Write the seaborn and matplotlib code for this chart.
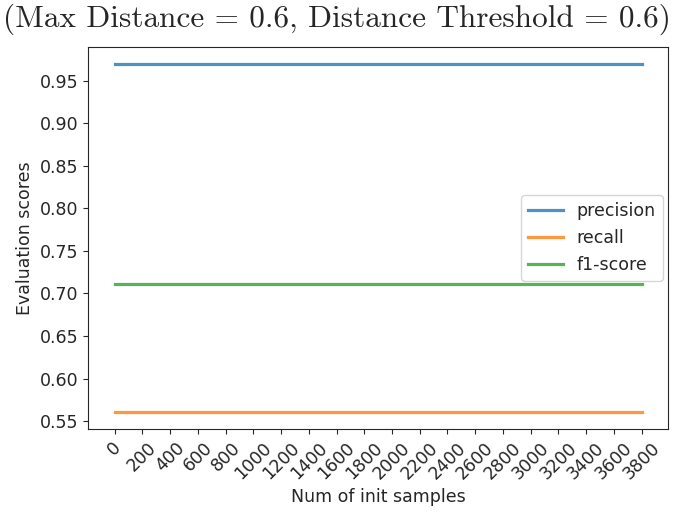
import pandas as pd
import numpy as np
import matplotlib
matplotlib.use("Agg")
import matplotlib.pyplot as plt
import seaborn as sns

# data
init_samples = [0, 200, 400, 600, 800, 1000, 1200, 1400, 1600, 1800,
                2000, 2200, 2400, 2600, 2800, 3000, 3200, 3400, 3600, 3800]
precision = [0.969, 0.969, 0.969, 0.969, 0.969, 0.969, 0.969, 0.969, 0.969, 0.969,
             0.969, 0.969, 0.969, 0.969, 0.969, 0.969, 0.969, 0.969, 0.969, 0.969]
recall = [0.561, 0.561, 0.561, 0.561, 0.561, 0.561, 0.561, 0.561, 0.561, 0.561,
          0.561, 0.561, 0.561, 0.561, 0.561, 0.561, 0.561, 0.561, 0.561, 0.561]
f1_score = [0.711, 0.711, 0.711, 0.711, 0.711, 0.711, 0.711, 0.711, 0.711, 0.711,
            0.711, 0.711, 0.711, 0.711, 0.711, 0.711, 0.711, 0.711, 0.711, 0.711]
metric_names = ["precision", "recall", "f1-score"]
y_ticks = [0.55, 0.60, 0.65, 0.70, 0.75, 0.80, 0.85, 0.90, 0.95]

df = pd.DataFrame({
    "samples": init_samples * 3,
    "score": precision + recall + f1_score,
    "metric": [metric_names[0]] * len(init_samples)
              + [metric_names[1]] * len(init_samples)
              + [metric_names[2]] * len(init_samples),
})

plt.rcParams["font.family"] = ["DejaVu Sans"]
plt.rcParams["font.size"] = 12.5
plt.rcParams["text.color"] = "#262626"
plt.rcParams["axes.labelcolor"] = "#262626"
plt.rcParams["xtick.color"] = "#262626"
plt.rcParams["ytick.color"] = "#262626"
plt.rcParams["axes.edgecolor"] = "#262626"

fig = plt.figure(figsize=(6.74, 5.12), dpi=100)
ax = fig.add_axes([0.131, 0.162, 0.860, 0.746])

sns.lineplot(data=df, x="samples", y="score", hue="metric",
             palette=["#1f77b4", "#ff7f0e", "#2ca02c"], linewidth=2.3,
             alpha=0.8, ax=ax)

ax.set_xticks(init_samples)
ax.set_xticklabels([str(v) for v in init_samples], rotation=45)
ax.set_yticks(y_ticks)
ax.set_yticklabels([f"{v:.2f}" for v in y_ticks])
ax.set_xlabel("Num of init samples")
ax.set_ylabel("Evaluation scores")
ax.legend(loc="center right", title=None, borderaxespad=0.3)

fig.text(0.5, 0.962, "(Max Distance = 0.6, Distance Threshold = 0.6)",
         ha="center", va="center", fontsize=22.5, family="cmr10")

fig.savefig("out.png", dpi=100)
